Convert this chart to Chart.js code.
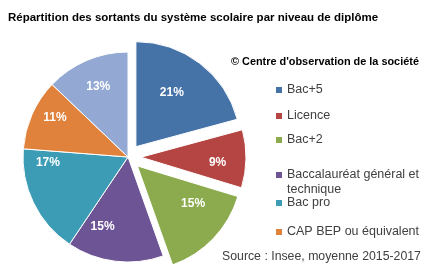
<!DOCTYPE html>
<html>
<head>
<meta charset="utf-8">
<script src="https://cdn.jsdelivr.net/npm/chart.js@4/dist/chart.umd.min.js"></script>
<style>
  html, body { margin: 0; padding: 0; background: #fff; }
  #wrap { width: 433px; height: 276px; position: relative; }
</style>
</head>
<body>
<div id="wrap"><canvas id="pieChart" width="433" height="276"></canvas></div>
<script>
// data
const categories = ['Bac+5', 'Licence', 'Bac+2', 'Baccalauréat général et technique', 'Bac pro', 'CAP BEP ou équivalent', 'Sans diplôme'];
const shares = [21, 9, 15, 15, 17, 11, 13];
const sliceColors = ['#4572a7', '#b54542', '#8cab4e', '#6d5495', '#3c9cb6', '#e0823b', '#93a9d3'];
const legendCount = 6; // the last entry is cut off in the original

const titleText = 'Répartition des sortants du système scolaire par niveau de diplôme';
const copyrightText = '© Centre d\'observation de la société';
const sourceText = 'Source : Insee, moyenne 2015-2017';

// styling: how far the first three slices are pulled out, and label nudges
const explodePx = [13, 13, 13, 0, 0, 0, 0];
const labelNudge = [[-10, 6], [1, 4], [1, -14], [-16, -5], [-12, -27], [-4, -8], [0, -1]];

const FONT = '"Liberation Sans", Arial, sans-serif';

// pull slices out along their middle angle, keeping their radius
const explode = {
    id: 'explode',
    afterDatasetUpdate(chart) {
        const meta = chart.getDatasetMeta(0);
        meta.data.forEach((arc, i) => {
            const mid = (arc.startAngle + arc.endAngle) / 2;
            arc.x += Math.cos(mid) * explodePx[i];
            arc.y += Math.sin(mid) * explodePx[i];
        });
    }
};

// percent labels inside the slices
const sliceLabels = {
    id: 'sliceLabels',
    afterDatasetsDraw(chart) {
        const ctx = chart.ctx;
        const meta = chart.getDatasetMeta(0);
        ctx.save();
        ctx.fillStyle = '#fff';
        ctx.font = 'bold 12px ' + FONT;
        ctx.textAlign = 'center';
        ctx.textBaseline = 'middle';
        meta.data.forEach((arc, i) => {
            const mid = (arc.startAngle + arc.endAngle) / 2;
            const d = arc.outerRadius * 0.72;
            ctx.fillText(shares[i] + '%',
                arc.x + Math.cos(mid) * d + labelNudge[i][0],
                arc.y + Math.sin(mid) * d + labelNudge[i][1]);
        });
        ctx.restore();
    }
};

// title, notes and the legend on the right
const textBlocks = {
    id: 'textBlocks',
    afterDraw(chart) {
        const ctx = chart.ctx;
        ctx.save();
        ctx.textBaseline = 'middle';
        ctx.fillStyle = '#000';
        ctx.font = 'bold 11.5px ' + FONT;
        ctx.fillText(titleText, 8, 18);

        ctx.font = 'bold 10.9px ' + FONT;
        ctx.fillText(copyrightText, 231, 62);

        ctx.fillStyle = '#404040';
        ctx.font = '12.3px ' + FONT;
        ctx.fillText(sourceText, 222, 257);

        const rowY = [90, 116, 140, 175, 203, 232];
        ctx.font = '12.5px ' + FONT;
        for (let i = 0; i < legendCount; i++) {
            ctx.fillStyle = sliceColors[i];
            ctx.fillRect(276, rowY[i] - 3, 6, 6);
            ctx.fillStyle = '#404040';
            // simple word wrap
            const words = categories[i].split(' ');
            let line = '', y = rowY[i];
            words.forEach(w => {
                const test = line ? line + ' ' + w : w;
                if (ctx.measureText(test).width > 140 && line) {
                    ctx.fillText(line, 287, y);
                    line = w;
                    y += 15;
                } else {
                    line = test;
                }
            });
            ctx.fillText(line, 287, y);
        }
        ctx.restore();
    }
};

new Chart(document.getElementById('pieChart'), {
    type: 'pie',
    data: {
        labels: categories,
        datasets: [{
            data: shares,
            backgroundColor: sliceColors,
            borderColor: '#ffffff',
            borderWidth: 1
        }]
    },
    options: {
        responsive: false,
        animation: false,
        events: [],
        radius: 105,
        layout: { padding: { left: 10, right: 187, top: 38, bottom: 0 } },
        plugins: {
            legend: { display: false },
            title: { display: false },
            tooltip: { enabled: false }
        }
    },
    plugins: [explode, sliceLabels, textBlocks]
});
</script>
</body>
</html>
